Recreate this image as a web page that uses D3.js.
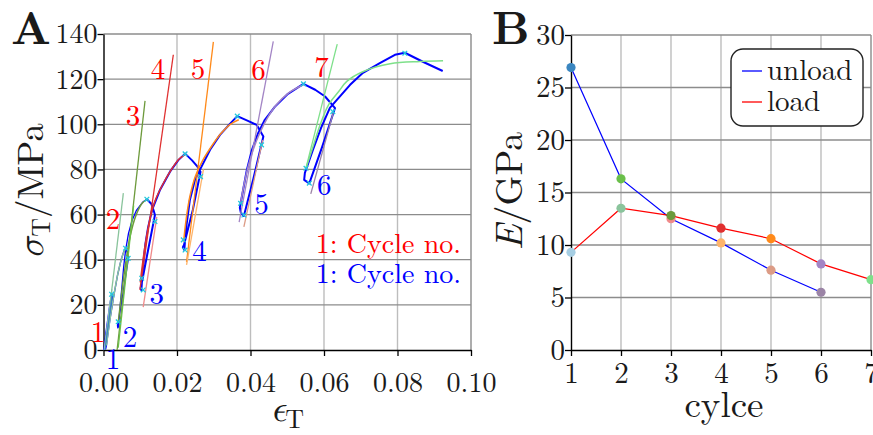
<!DOCTYPE html>
<html>
<head>
<meta charset="utf-8">
<script src="https://cdn.jsdelivr.net/npm/d3@7.9.0/dist/d3.min.js"></script>
<style>
  body { margin: 0; background: #fff; }
</style>
</head>
<body>
<svg id="chart" width="873" height="435"></svg>
<script>
// ---- data: panel A (true stress / strain) ----
const strainTicks = [0, 0.02, 0.04, 0.06, 0.08, 0.10];
const stressTicks = [0, 20, 40, 60, 80, 100, 120, 140];

// measured curve [strain, stress MPa]
const stressStrain = [
  [0.0001, 0], [0.0006, 7], [0.0012, 14], [0.0017, 20], [0.0022, 24.6], [0.0025, 23.8],
  [0.0016, 12], [0.0008, 2], [0.0006, 0.5],
  [0.0010, 5], [0.0018, 14], [0.0028, 24], [0.0038, 33], [0.0048, 40], [0.0055, 43.5], [0.0061, 45.1],
  [0.0065, 43], [0.0068, 40.8],
  [0.0054, 26], [0.0041, 13], [0.0038, 10.8], [0.0039, 9.8], [0.0041, 10.3],
  [0.0043, 15], [0.0049, 26], [0.0055, 37], [0.0060, 44], [0.0068, 51.7], [0.0078, 57.5], [0.0090, 62], [0.0108, 65.7], [0.0118, 66.8],
  [0.0130, 64.8], [0.0136, 62], [0.0140, 59.8],
  [0.0121, 44], [0.0104, 29.5], [0.0101, 27.5], [0.0103, 26.5],
  [0.0108, 38], [0.0114, 47], [0.0121, 54], [0.0132, 62], [0.0154, 71], [0.0181, 79], [0.0203, 84], [0.0222, 87],
  [0.0241, 84], [0.0254, 81.6], [0.0264, 79],
  [0.0243, 62], [0.0219, 46.5], [0.0216, 45.5], [0.0220, 44.3],
  [0.0224, 53], [0.0235, 66.5], [0.0249, 75.4], [0.0265, 80.7], [0.0290, 88.7], [0.0317, 95.3], [0.0344, 100.2], [0.0364, 103.6],
  [0.0393, 101.5], [0.0417, 99.7], [0.0435, 94.6],
  [0.0408, 76], [0.0382, 59.4], [0.0374, 60.7], [0.0371, 63],
  [0.0380, 71], [0.0390, 79.8], [0.0404, 88.7], [0.0420, 95.8], [0.0439, 102], [0.0466, 107.7], [0.0502, 113.5], [0.0544, 117.9],
  [0.0576, 115.3], [0.0603, 112.3], [0.0630, 107.2],
  [0.0595, 90], [0.0560, 73.8], [0.0546, 75.4], [0.0548, 78.5],
  [0.0570, 88.7], [0.0592, 98.4], [0.0616, 107.3], [0.0635, 110.8], [0.0671, 117.5], [0.0706, 122.8], [0.0753, 127.2],
  [0.0793, 130.8], [0.0820, 131.7], [0.0869, 127.7], [0.0923, 123.6]
];
const thinUntil = 32; // first cycles are drawn with a thinner pen

// fit end points picked on the curve
const fitPoints = [
  [0.0022, 24.7], [0.0060, 45.1], [0.0040, 12.5], [0.0067, 40.6], [0.0118, 66.8], [0.0140, 56.9],
  [0.0104, 31.8], [0.0108, 26.6], [0.0222, 86.9], [0.0264, 76.8], [0.0217, 48.8], [0.0222, 44.3],
  [0.0364, 103.6], [0.0373, 65], [0.0382, 59.8], [0.0430, 90.9], [0.0544, 117.9], [0.0624, 105.6],
  [0.0551, 80.5], [0.0560, 73.9], [0.0820, 131.5]
];

// straight modulus fits, [[x1, y1], [x2, y2]]
const loadFits = [
  [[0.0002, 0], [0.0023, 27]],
  [[0.0004, 1.5], [0.0054, 69.5]],
  [[0.0037, 0], [0.0113, 110.4]],
  [[0.0099, 26.6], [0.0190, 130.8]],
  [[0.0226, 39], [0.0299, 136.5]],
  [[0.0369, 56.7], [0.0462, 136.7]],
  [[0.0551, 80.7], [0.0636, 135.5]]
];
const unloadFits = [
  [[0.0004, 0], [0.0024, 25]],
  [[0.0040, 1], [0.0082, 64]],
  [[0.0108, 19], [0.0145, 59]],
  [[0.0226, 37.7], [0.0272, 80]],
  [[0.0382, 54.5], [0.0433, 93]],
  [[0.0564, 69.2], [0.0625, 105]]
];

// reloading fits along the curve (cycle 2..7)
const reloadFits = [
  [[0.0008, 2], [0.0018, 14], [0.0030, 26], [0.0042, 36], [0.0052, 42], [0.0060, 45]],
  [[0.0040, 12], [0.0050, 26], [0.0060, 38], [0.0072, 50], [0.0088, 59.5], [0.0105, 65], [0.0117, 66.5]],
  [[0.0100, 30], [0.0112, 45], [0.0125, 57], [0.0140, 66], [0.0160, 73], [0.0185, 80], [0.0205, 84.5], [0.0221, 86.5]],
  [[0.0218, 48], [0.0225, 58], [0.0235, 68], [0.0250, 77], [0.0270, 84], [0.0295, 90.5], [0.0320, 96], [0.0345, 100], [0.0368, 102]],
  [[0.0373, 65], [0.0382, 73], [0.0393, 81], [0.0408, 89], [0.0425, 96], [0.0445, 102.5], [0.0470, 108.5], [0.0505, 114], [0.0544, 117.5]],
  [[0.0551, 80.5], [0.0570, 90], [0.0590, 100], [0.0612, 108.5], [0.0640, 114.5], [0.0662, 119], [0.0707, 123.4], [0.0780, 126.8], [0.0861, 127.8], [0.0924, 128.1]]
];

const loadColors = ['#a6cee3', '#8ac49c', '#6d9a3c', '#e03030', '#ff8a1a', '#a385c5', '#7ee08a'];
const unloadColors = ['#3a86c0', '#6abf4a', '#f08a8a', '#fdb46c', '#dc9c86', '#9b84a6'];

// cycle number annotations [strain, stress]
const loadLabelPos = [[-0.0015, 9.3], [0.0026, 59], [0.0080, 104.8], [0.0148, 125.5], [0.0257, 125.5], [0.0422, 125], [0.0593, 126.3]];
const unloadLabelPos = [[0.0026, -3.1], [0.0072, 6.9], [0.0145, 25.8], [0.0261, 45.1], [0.0430, 65.7], [0.0601, 74]];

// ---- data: panel B (modulus per cycle) ----
const cycleTicks = [1, 2, 3, 4, 5, 6, 7];
const modulusTicks = [0, 5, 10, 15, 20, 25, 30];
const unloadCycles = [1, 2, 3, 4, 5, 6];
const unloadE = [26.9, 16.3, 12.5, 10.2, 7.6, 5.5];
const loadCycles = [1, 2, 3, 4, 5, 6, 7];
const loadE = [9.3, 13.5, 12.8, 11.6, 10.6, 8.2, 6.7];

const FONT = "'Latin Modern Roman', 'Liberation Serif', serif";
const MATH = "'Latin Modern Math', 'Latin Modern Roman', 'DejaVu Serif', serif";
const ink = '#1a1a1a';

const root = d3.select('#chart');
root.append('rect').attr('width', 873).attr('height', 435).attr('fill', '#fff');
const svg = root.append('g').attr('font-family', FONT);

function drawFrame(x, y, xt, yt, opts) {
  const g = svg.append('g');
  const [x0, x1] = x.domain();
  const [y0, y1] = y.domain();
  // vertical grid
  g.selectAll('.vg').data(xt.slice(1)).join('line')
    .attr('x1', d => x(d)).attr('x2', d => x(d))
    .attr('y1', y(y0)).attr('y2', y(y1))
    .attr('stroke', (d, i) => i === xt.length - 2 ? '#8a8a8a' : '#bdbdbd')
    .attr('stroke-width', 1.4);
  // horizontal grid
  g.selectAll('.hg').data(yt.slice(1)).join('line')
    .attr('x1', x(x0)).attr('x2', x(x1))
    .attr('y1', d => y(d)).attr('y2', d => y(d))
    .attr('stroke', '#8c8c8c')
    .attr('stroke-width', 1.3);

  const ax = svg.append('g').attr('transform', `translate(0,${y(y0)})`)
    .call(d3.axisBottom(x).tickValues(xt).tickFormat(opts.xfmt)
      .tickSize(6).tickSizeOuter(0).tickPadding(opts.xpad));
  const ay = svg.append('g').attr('transform', `translate(${x(x0)},0)`)
    .call(d3.axisLeft(y).tickValues(yt).tickFormat(d3.format('d'))
      .tickSize(6).tickSizeOuter(0).tickPadding(0));
  [ax, ay].forEach(a => {
    a.attr('font-family', FONT).attr('font-size', opts.fs);
    a.select('.domain').attr('stroke', '#000').attr('stroke-width', 1.4);
    a.selectAll('.tick line').attr('stroke', '#000').attr('stroke-width', 1.3);
    a.selectAll('.tick text').attr('fill', ink);
  });
}

// ---------- panel A ----------
const xA = d3.scaleLinear().domain([0, 0.1]).range([103.5, 471]);
const yA = d3.scaleLinear().domain([0, 140]).range([350, 34]);
drawFrame(xA, yA, strainTicks, stressTicks, { xfmt: d3.format('.2f'), xpad: 16, fs: 28 });

const lineA = d3.line().x(d => xA(d[0])).y(d => yA(d[1]));

const plotA = svg.append('g');
plotA.append('path').datum(stressStrain.slice(0, thinUntil))
  .attr('d', lineA).attr('fill', 'none')
  .attr('stroke', '#0000ff').attr('stroke-width', 1.3).attr('stroke-linejoin', 'round');
plotA.append('path').datum(stressStrain.slice(thinUntil - 1))
  .attr('d', lineA).attr('fill', 'none')
  .attr('stroke', '#0000ff').attr('stroke-width', 2).attr('stroke-linejoin', 'round');

plotA.selectAll('.rf').data(reloadFits).join('path')
  .attr('d', d3.line().curve(d3.curveCatmullRom).x(d => xA(d[0])).y(d => yA(d[1])))
  .attr('fill', 'none').attr('stroke', (d, i) => loadColors[i + 1]).attr('stroke-width', 1.5);

plotA.selectAll('.lf').data(loadFits).join('path')
  .attr('d', lineA).attr('fill', 'none')
  .attr('stroke', (d, i) => loadColors[i]).attr('stroke-width', 1.3);
plotA.selectAll('.uf').data(unloadFits).join('path')
  .attr('d', lineA).attr('fill', 'none')
  .attr('stroke', (d, i) => unloadColors[i]).attr('stroke-width', 1.3);

plotA.selectAll('.fp').data(fitPoints).join('path')
  .attr('transform', d => `translate(${xA(d[0])},${yA(d[1])})`)
  .attr('d', d3.symbol(d3.symbolTimes, 16))
  .attr('fill', 'none').attr('stroke', '#22c8dc').attr('stroke-width', 1.3);

svg.selectAll('.ll').data(loadLabelPos).join('text')
  .attr('x', d => xA(d[0])).attr('y', d => yA(d[1]))
  .attr('text-anchor', 'middle').attr('dominant-baseline', 'central')
  .attr('font-size', 29).attr('fill', '#ff0000')
  .text((d, i) => i + 1);
svg.selectAll('.ul').data(unloadLabelPos).join('text')
  .attr('x', d => xA(d[0])).attr('y', d => yA(d[1]))
  .attr('text-anchor', 'middle').attr('dominant-baseline', 'central')
  .attr('font-size', 29).attr('fill', '#0000ff')
  .text((d, i) => i + 1);

svg.append('text').attr('x', xA(0.0973)).attr('y', yA(42.8))
  .attr('text-anchor', 'end').attr('font-size', 28).attr('fill', '#ff0000')
  .text('1: Cycle no.');
svg.append('text').attr('x', xA(0.0973)).attr('y', yA(29.5))
  .attr('text-anchor', 'end').attr('font-size', 28).attr('fill', '#0000ff')
  .text('1: Cycle no.');

// axis titles A
const sig = svg.append('text').attr('transform', 'translate(43,191) rotate(-90)')
  .attr('text-anchor', 'middle').attr('fill', ink).attr('font-size', 37);
sig.append('tspan').attr('font-family', MATH).attr('font-style', 'italic').text('σ');
sig.append('tspan').attr('font-size', 26).attr('dy', 7).text('T');
sig.append('tspan').attr('dy', -7).text('/MPa');

const eps = svg.append('text').attr('x', 287).attr('y', 421)
  .attr('text-anchor', 'middle').attr('fill', ink).attr('font-size', 37);
eps.append('tspan').attr('font-family', MATH).attr('font-style', 'italic').text('ϵ');
eps.append('tspan').attr('font-size', 26).attr('dy', 7).text('T');

svg.append('text').attr('x', 11).attr('y', 44).attr('fill', ink)
  .attr('font-size', 46).attr('font-weight', 'bold').text('A');

// ---------- panel B ----------
const xB = d3.scaleLinear().domain([1, 7]).range([571, 871]);
const yB = d3.scaleLinear().domain([0, 30]).range([350, 35]);
drawFrame(xB, yB, cycleTicks, modulusTicks, { xfmt: d3.format('d'), xpad: 6, fs: 29 });

const lineB = d3.line().x(d => xB(d[0])).y(d => yB(d[1]));
const unloadPts = unloadCycles.map((c, i) => [c, unloadE[i]]);
const loadPts = loadCycles.map((c, i) => [c, loadE[i]]);

svg.append('path').datum(unloadPts).attr('d', lineB)
  .attr('fill', 'none').attr('stroke', '#0000ff').attr('stroke-width', 1.2);
svg.append('path').datum(loadPts).attr('d', lineB)
  .attr('fill', 'none').attr('stroke', '#ff0000').attr('stroke-width', 1.2);

svg.selectAll('.um').data(unloadPts).join('circle')
  .attr('cx', d => xB(d[0])).attr('cy', d => yB(d[1])).attr('r', 4.6)
  .attr('fill', (d, i) => unloadColors[i]);
svg.selectAll('.lm').data(loadPts).join('circle')
  .attr('cx', d => xB(d[0])).attr('cy', d => yB(d[1])).attr('r', 4.6)
  .attr('fill', (d, i) => loadColors[i]);

// legend
const leg = svg.append('g');
leg.append('rect').attr('x', 731).attr('y', 49).attr('width', 132).attr('height', 77)
  .attr('rx', 12).attr('fill', '#fff').attr('stroke', '#222').attr('stroke-width', 1.4);
[['unload', '#0000ff', 71], ['load', '#ff0000', 102]].forEach(([t, c, y]) => {
  leg.append('line').attr('x1', 742).attr('x2', 762).attr('y1', y).attr('y2', y)
    .attr('stroke', c).attr('stroke-width', 1.3);
  leg.append('text').attr('x', 767).attr('y', y + 9).attr('fill', ink)
    .attr('font-size', 29).text(t);
});

const eLab = svg.append('text').attr('transform', 'translate(522,191) rotate(-90)')
  .attr('text-anchor', 'middle').attr('fill', ink).attr('font-size', 38);
eLab.append('tspan').attr('font-style', 'italic').text('E');
eLab.append('tspan').text('/GPa');

svg.append('text').attr('x', 724).attr('y', 417).attr('text-anchor', 'middle')
  .attr('fill', ink).attr('font-size', 37).text('cylce');

svg.append('text').attr('x', 492).attr('y', 44).attr('fill', ink)
  .attr('font-size', 46).attr('font-weight', 'bold').text('B');
</script>
</body>
</html>
